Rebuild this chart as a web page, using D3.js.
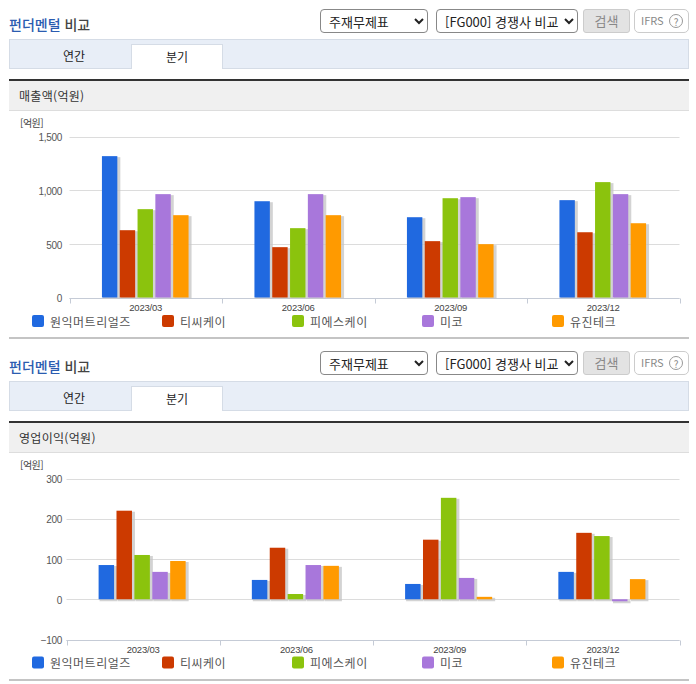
<!DOCTYPE html>
<html lang="ko">
<head>
<meta charset="UTF-8">
<title>펀더멘털 비교</title>
<script src="https://cdnjs.cloudflare.com/ajax/libs/d3/7.8.5/d3.min.js"></script>
<style>
html, body { margin: 0; padding: 0; background: #fff; }
body { width: 696px; height: 684px; position: relative; overflow: hidden; font-family: "Noto Sans CJK KR", "Noto Sans", sans-serif; }
.abs { position: absolute; box-sizing: border-box; }
.title { left: 9px; font-size: 14px; font-weight: 500; color: #444; line-height: 20px; }
.title span { color: #2b5cb0; }
select { position: absolute; box-sizing: border-box; height: 24px; font: 13px "Noto Sans CJK KR", sans-serif; color: #222; background: #fff; border: 1px solid #888; border-radius: 4px; padding-left: 4px; }
.btn { left: 583px; width: 47px; height: 24px; background: #e3e3e3; border: 1px solid #ccc; border-radius: 3px; color: #888; font-size: 13px; line-height: 21px; text-align: center; }
.ifrs { left: 634px; width: 55px; height: 24px; background: #fff; border: 1px solid #ccc; border-radius: 5px; color: #888; font-size: 11px; line-height: 21px; padding-left: 6px; }
.ifrs i { position: absolute; left: 34px; top: 4px; width: 14px; height: 14px; border: 1px solid #999; border-radius: 50%; font-style: normal; font-size: 10px; line-height: 13px; text-align: center; box-sizing: border-box; }
.tabbar { left: 9px; width: 680px; height: 30px; background: #e8eef7; border: 1px solid #d5dce6; }
.tab { height: 25px; font-size: 12px; color: #222; text-align: center; line-height: 23px; }
.tab.on { left: 131px; width: 92px; background: #fff; border: 1px solid #d5dce6; border-bottom: 0; }
.head { left: 9px; width: 680px; height: 32px; background: #f0f0f0; border-top: 2px solid #333; border-bottom: 1px solid #ddd; font-size: 12px; color: #333; line-height: 29px; padding-left: 10px; letter-spacing: .3px; }
svg { position: absolute; left: 0; top: 0; }
svg text { font-family: "Noto Sans CJK KR", sans-serif; }
svg text.num { font-family: "Liberation Sans", Arial, sans-serif; }
</style>
</head>
<body>
<script>
var w = 696, h = 684;

var periods = ["2023/03", "2023/06", "2023/09", "2023/12"];
var companies = ["원익머트리얼즈", "티씨케이", "피에스케이", "미코", "유진테크"];
var colors = ["#2069e0", "#cc3a00", "#8bc30d", "#a877db", "#ff9a00"];
var legendX = [32, 162, 292, 422, 552];

// 매출액(억원)
var salesBlue = [1317, 897, 748, 907];
var salesRed = [627, 469, 525, 608];
var salesGreen = [823, 646, 925, 1075];
var salesPurple = [963, 963, 935, 963];
var salesOrange = [767, 767, 497, 692];
var salesTicks = [0, 500, 1000, 1500];

// 영업이익(억원)
var profitBlue = [85, 48, 38, 68];
var profitRed = [220, 128, 148, 165];
var profitGreen = [110, 13, 252, 157];
var profitPurple = [68, 85, 53, -5];
var profitOrange = [95, 83, 6, 50];
var profitTicks = [-100, 0, 100, 200, 300];

var body = d3.select("body");
var svg = body.append("svg").attr("width", w).attr("height", h);

// page furniture above each chart
function drawChrome(top, label) {
  var t = body.append("div").attr("class", "abs title").style("top", (top + 14) + "px");
  t.append("span").text("펀더멘털");
  t.append("b").style("font-weight", "500").text(" 비교");

  body.append("select").style("left", "320px").style("top", (top + 9) + "px").style("width", "108px")
    .append("option").text("주재무제표");
  body.append("select").style("left", "436px").style("top", (top + 9) + "px").style("width", "142px")
    .append("option").text("[FG000] 경쟁사 비교");

  body.append("div").attr("class", "abs btn").style("top", (top + 9) + "px").text("검색");
  var ifrs = body.append("div").attr("class", "abs ifrs").style("top", (top + 9) + "px").text("IFRS");
  ifrs.append("i").text("?");

  body.append("div").attr("class", "abs tabbar").style("top", (top + 39) + "px");
  body.append("div").attr("class", "abs tab").style("left", "28px").style("width", "92px").style("top", (top + 44) + "px").text("연간");
  body.append("div").attr("class", "abs tab on").style("top", (top + 44) + "px").text("분기");
  body.append("div").attr("class", "abs head").style("top", (top + 79) + "px").text(label);
}

function drawChart(cfg) {
  var g = svg.append("g");
  var x = d3.scaleBand().domain(periods).range([cfg.left, 679.5]);
  var y = d3.scaleLinear().domain(d3.extent(cfg.ticks)).range([cfg.bottom, cfg.top]);
  var inner = d3.scaleBand().domain(d3.range(companies.length)).range([0, x.bandwidth()]).paddingInner(0.135).paddingOuter(1.85);

  g.append("text").attr("x", 20).attr("y", cfg.top - 10).attr("font-size", 10).attr("fill", "#444").attr("letter-spacing", -0.5).text("[억원]");

  // gridlines
  g.append("g").selectAll("line").data(cfg.ticks).enter().append("line")
    .attr("x1", cfg.left).attr("x2", 679.5)
    .attr("y1", function(d) { return Math.round(y(d)) + 0.5; })
    .attr("y2", function(d) { return Math.round(y(d)) + 0.5; })
    .attr("stroke", "#dcdcdc");

  var yAxis = d3.axisLeft(y).tickValues(cfg.ticks).tickSize(0).tickPadding(0).tickFormat(d3.format(","));
  var ya = g.append("g").attr("transform", "translate(62,1)").call(yAxis);
  ya.select(".domain").remove();
  ya.selectAll("text").attr("class", "num").attr("font-size", 10).attr("fill", "#555").attr("letter-spacing", -0.3);

  // category axis
  var baseY = Math.round(cfg.bottom) + 0.5;
  g.append("line").attr("x1", cfg.left).attr("x2", 679.5).attr("y1", baseY).attr("y2", baseY).attr("stroke", "#c5cbd6");
  g.append("g").selectAll("line").data(periods.concat(["end"])).enter().append("line")
    .attr("x1", function(d, i) { return Math.round(cfg.left + i * x.bandwidth()) + 0.5; })
    .attr("x2", function(d, i) { return Math.round(cfg.left + i * x.bandwidth()) + 0.5; })
    .attr("y1", baseY).attr("y2", baseY + 5).attr("stroke", "#c5cbd6");
  g.append("g").selectAll("text").data(periods).enter().append("text")
    .attr("class", "num")
    .attr("x", function(d) { return x(d) + x.bandwidth() / 2; })
    .attr("y", baseY + 12).attr("text-anchor", "middle").attr("font-size", 9.5).attr("fill", "#444").attr("letter-spacing", -0.2)
    .text(function(d) { return d; });

  // bars, each with the soft grey shadow on its right and bottom
  cfg.series.forEach(function(vals, s) {
    var bars = g.append("g").selectAll("g").data(vals).enter().append("g");
    function bx(d, i) { return x(periods[i]) + inner(s) + cfg.shift; }
    function by(d) { return y(Math.max(d, 0)); }
    function bh(d) { return Math.max(Math.abs(y(d) - y(0)), 1); }
    bars.append("rect").attr("x", function(d, i) { return bx(d, i) + 1; })
      .attr("y", function(d) { return by(d) + 1; })
      .attr("width", inner.bandwidth() + 2).attr("height", function(d) { return bh(d) + cfg.shadowDrop; })
      .attr("fill", "#c4c4c4").attr("fill-opacity", 0.75);
    bars.append("rect").attr("x", bx).attr("y", by)
      .attr("width", inner.bandwidth()).attr("height", bh)
      .attr("fill", colors[s]);
  });

  // legend
  var lg = g.append("g").selectAll("g").data(companies).enter().append("g");
  lg.append("rect").attr("x", function(d, i) { return legendX[i]; }).attr("y", cfg.legendY)
    .attr("width", 12).attr("height", 12).attr("rx", 2).attr("fill", function(d, i) { return colors[i]; });
  lg.append("text").attr("x", function(d, i) { return legendX[i] + 18; }).attr("y", cfg.legendY + 11.5)
    .attr("font-size", 12).attr("fill", "#555").attr("letter-spacing", 0.5).text(function(d) { return d; });

  // closing rule
  g.append("rect").attr("x", 9).attr("y", cfg.ruleY).attr("width", 680).attr("height", 2).attr("fill", "#c4c4c4");
}

drawChrome(0, "매출액(억원)");
drawChrome(342, "영업이익(억원)");

drawChart({
  left: 69.5, top: 136.5, bottom: 297.5, ticks: salesTicks, legendY: 315, ruleY: 337, shift: -0.5, shadowDrop: 0,
  series: [salesBlue, salesRed, salesGreen, salesPurple, salesOrange]
});
drawChart({
  left: 66.5, top: 478.5, bottom: 639.5, ticks: profitTicks, legendY: 656.5, ruleY: 679, shift: -1, shadowDrop: 1,
  series: [profitBlue, profitRed, profitGreen, profitPurple, profitOrange]
});
</script>
</body>
</html>
